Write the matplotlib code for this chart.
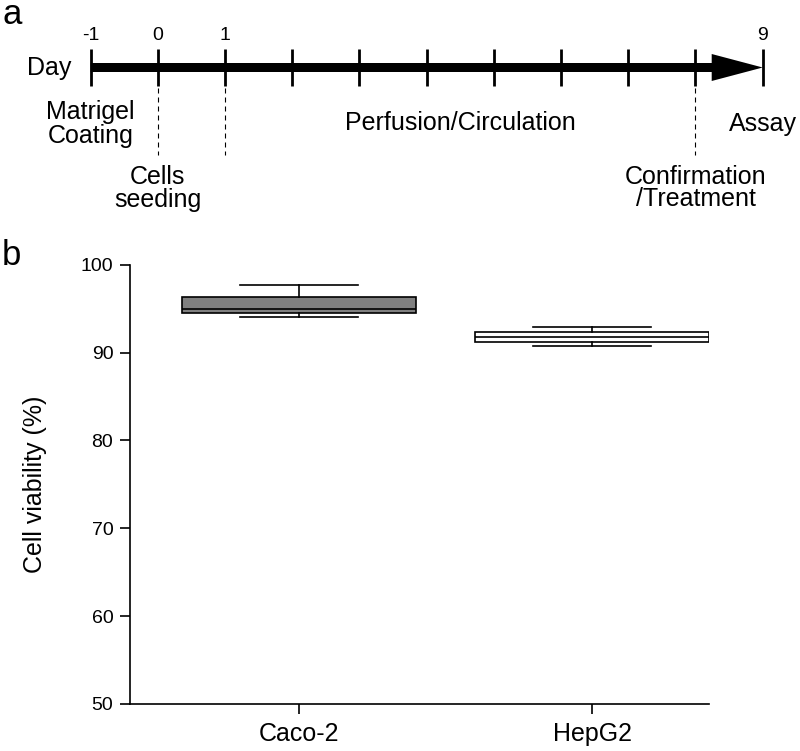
import matplotlib
matplotlib.use("Agg")
import matplotlib.pyplot as plt

plt.rcParams['font.family'] = ['Liberation Sans', 'DejaVu Sans']

# ---------------- data ----------------
days = [-1, 0, 1, 2, 3, 4, 5, 6, 7, 8, 9]
day_labels = ['-1', '0', '1', '9']
day_label_pos = [-1, 0, 1, 9]
dashed_days = [0, 1, 8]

categories = ['Caco-2', 'HepG2']
whisker_low = [94.08, 90.74]
q1 = [94.47, 91.16]
median = [94.92, 91.73]
q3 = [96.35, 92.37]
whisker_high = [97.68, 92.94]
box_colors = ['#808080', '#ffffff']

y_ticks = [50, 60, 70, 80, 90, 100]

# ---------------- figure ----------------
W, H = 800, 751
fig = plt.figure(figsize=(W / 100, H / 100), dpi=100)

# ---- panel a: timeline (x in days, y in pixels from top) ----
top_h = 220
axa = fig.add_axes([0, 1 - top_h / H, 1, top_h / H])
px_per_day = 67.2
x0 = -1 - 90.7 / px_per_day
axa.set_xlim(x0, x0 + W / px_per_day)
axa.set_ylim(top_h, 0)
axa.axis('off')

bar_y = 67.5
axa.arrow(days[0], bar_y, days[-1] - days[0], 0, width=9, head_width=27,
          head_length=51 / px_per_day, length_includes_head=True,
          fc='black', ec='black', lw=0)
for d in days:
    axa.plot([d, d], [49, 86], color='black', lw=2.0, solid_capstyle='butt')
for d in dashed_days:
    axa.plot([d, d], [88, 155], color='black', lw=0.8, linestyle=(0, (4.5, 3.6)))
for d, lab in zip(day_label_pos, day_labels):
    axa.text(d, 40, lab, ha='center', va='baseline', fontsize=14)

axa.text(-1 - 19 / px_per_day, 75, 'Day', ha='right', va='baseline', fontsize=18)
axa.text(-1, 119.5, 'Matrigel', ha='center', va='baseline', fontsize=18)
axa.text(-1, 142.5, 'Coating', ha='center', va='baseline', fontsize=18)
axa.text(0, 183.5, 'Cells', ha='center', va='baseline', fontsize=18)
axa.text(0, 206.5, 'seeding', ha='center', va='baseline', fontsize=18)
axa.text(4.5, 130.5, 'Perfusion/Circulation', ha='center', va='baseline', fontsize=18)
axa.text(9, 130.5, 'Assay', ha='center', va='baseline', fontsize=18)
axa.text(8, 183.5, 'Confirmation', ha='center', va='baseline', fontsize=18)
axa.text(8, 206.5, '/Treatment', ha='center', va='baseline', fontsize=18)

fig.text(2 / W, 1 - 24 / H, 'a', fontsize=25, ha='left', va='baseline')
fig.text(2 / W, 1 - 265 / H, 'b', fontsize=25, ha='left', va='baseline')

# ---- panel b: box plot ----
left, right = 130, 708.7
ytop, ybot = 264.7, 704
axb = fig.add_axes([left / W, 1 - ybot / H, (right - left) / W, (ybot - ytop) / H])

stats = []
for i, c in enumerate(categories):
    stats.append(dict(label=c, whislo=whisker_low[i], q1=q1[i], med=median[i],
                      q3=q3[i], whishi=whisker_high[i], fliers=[]))
positions = list(range(len(categories)))
bp = axb.bxp(stats, positions=positions, widths=0.8, capwidths=0.4,
             showfliers=False, patch_artist=True,
             boxprops=dict(linewidth=1.2, edgecolor='black'),
             medianprops=dict(color='black', linewidth=1.2),
             whiskerprops=dict(color='black', linewidth=1.2),
             capprops=dict(color='black', linewidth=1.2))
for patch, col in zip(bp['boxes'], box_colors):
    patch.set_facecolor(col)

axb.set_xlim(-0.577, 1.398)
axb.set_ylim(50, 100)
axb.set_yticks(y_ticks)
axb.set_xticks(positions)
axb.set_xticklabels(categories, fontsize=18)
axb.tick_params(axis='y', labelsize=14, length=7, width=1.2, pad=5)
axb.tick_params(axis='x', length=7, width=1.2, pad=6)
for s in ['top', 'right']:
    axb.spines[s].set_visible(False)
for s in ['left', 'bottom']:
    axb.spines[s].set_linewidth(1.2)
axb.set_ylabel('Cell viability (%)', fontsize=18)
axb.yaxis.set_label_coords((47 - left) / (right - left), 0.5)

fig.savefig('out.png', dpi=100)
